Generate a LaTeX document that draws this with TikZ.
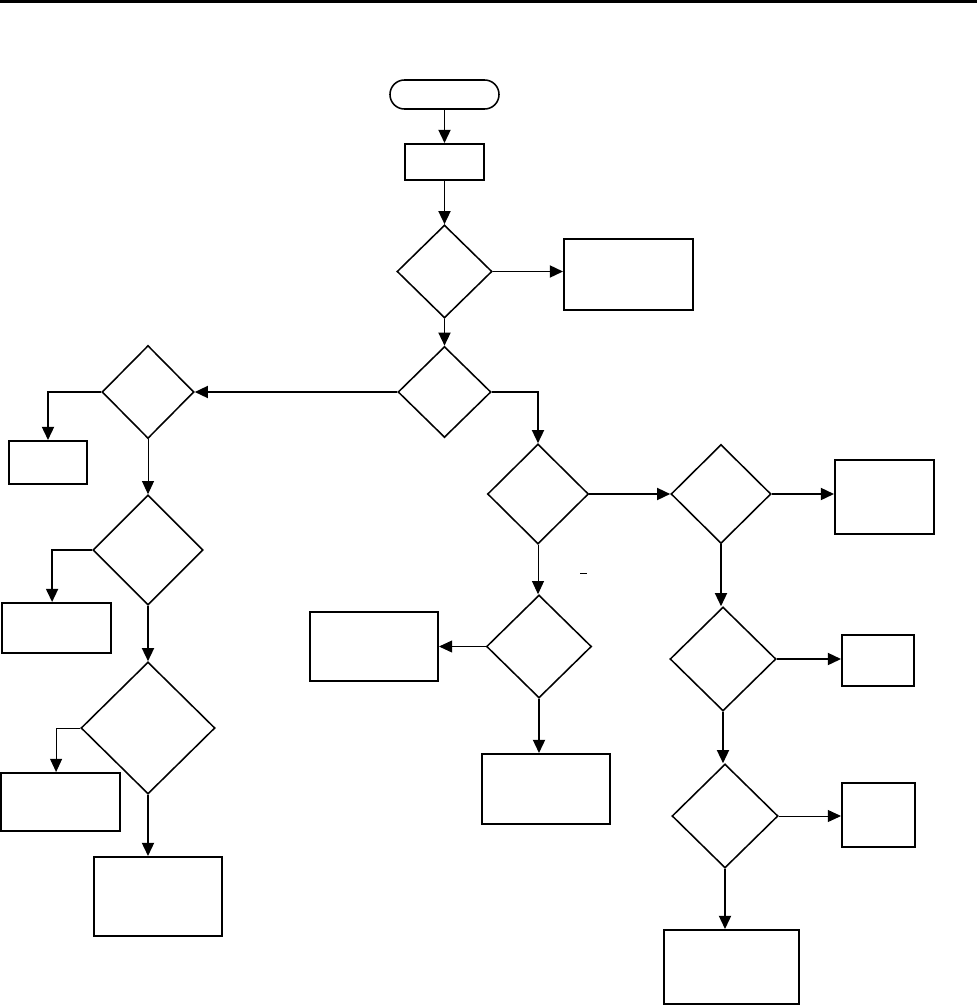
\documentclass[tikz,border=0pt]{standalone}
\usepackage{tikz}
\usetikzlibrary{arrows.meta, positioning, shapes.geometric}

\begin{document}
\begin{tikzpicture}[
  x=0.025cm, y=-0.025cm,
  sz/.style 2 args={minimum width=#1*0.025cm, minimum height=#2*0.025cm},
  proc/.style={draw, rectangle, line width=1.4pt, inner sep=0pt},
  decision/.style={draw, diamond, line width=1.1pt, inner sep=0pt},
  term/.style={draw, rectangle, rounded corners=0.36cm, line width=1.1pt, inner sep=0pt},
  arrow/.style={-{Triangle[length=0.33cm, width=0.3cm]}, line width=1.4pt},
  thinarrow/.style={-{Triangle[length=0.33cm, width=0.3cm]}, line width=0.7pt}
]
\useasboundingbox (0,0) rectangle (977,1005);
\draw[line width=2.1pt] (0,1.5) -- (977,1.5);

% main column
\node[term, sz={109}{29}] (start) at (444.5,94.5) {};
\node[proc, sz={79}{36}] (init) at (444.5,162) {};
\node[decision, sz={95}{93}] (d1) at (444.5,271.5) {};
\node[proc, sz={129}{71}] (out1) at (628.5,274.5) {};
\node[decision, sz={93}{91}] (d2) at (444.5,392) {};

% left branch
\node[decision, sz={92}{93}] (left1) at (148,392) {};
\node[proc, sz={78}{43}] (leftbox1) at (48,462.5) {};
\node[decision, sz={110}{110}] (left2) at (148,550) {};
\node[proc, sz={109}{50}] (leftbox2) at (56.5,628) {};
\node[decision, sz={134}{132}] (left3) at (148,728) {};
\node[proc, sz={119}{58}] (leftbox3) at (60.5,802) {};
\node[proc, sz={128}{79}] (leftbox4) at (158,896.5) {};

% middle branch
\node[decision, sz={101}{100}] (mid1) at (538,494) {};
\node[decision, sz={105}{103}] (mid2) at (539,646.5) {};
\node[proc, sz={128}{69}] (midbox1) at (374,646.5) {};
\node[proc, sz={128}{70}] (midbox2) at (546,789) {};

% right branch
\node[decision, sz={100}{99}] (right1) at (721,494) {};
\node[proc, sz={99}{74}] (rightbox1) at (884.5,497) {};
\node[decision, sz={106}{104}] (right2) at (723,659) {};
\node[proc, sz={72}{51}] (rightbox2) at (878,660.5) {};
\node[decision, sz={106}{104}] (right3) at (725,816) {};
\node[proc, sz={73}{64}] (rightbox3) at (878.5,815) {};
\node[proc, sz={135}{74}] (rightbox4) at (731.5,967) {};

\draw[line width=0.7pt] (580,573) -- (587,573);

\draw[arrow] (start) -- (init); \draw[arrow] (init) -- (d1); \draw[arrow] (d1) -- (d2);
\draw[arrow] (d1.east) -- (d1.east -| out1.west);
\draw[arrow] (d2.west) -- (left1.east);
\draw[arrow] (left1.west) -| (leftbox1.north);
\draw[thinarrow] (left1.south) -- (left2.north);
\draw[arrow] (left2.west) -| ([xshift=-0.11cm]leftbox2.north);
\draw[arrow] (left2.south) -- (left3.north);
\draw[thinarrow] (left3.west) -| ([xshift=-0.11cm]leftbox3.north);
\draw[arrow] (left3.south) -- (left3.south |- leftbox4.north);
\draw[arrow] (d2.east) -| (mid1.north);
\draw[arrow] (mid1.east) -- (right1.west);
\draw[thinarrow] (mid1.south) -- (mid1.south |- mid2.north);
\draw[thinarrow] (mid2.west) -- (mid2.west -| midbox1.east);
\draw[arrow] (mid2.south) -- (mid2.south |- midbox2.north);
\draw[arrow] (right1.east) -- (right1.east -| rightbox1.west);
\draw[arrow] (right1.south) -- (right1.south |- right2.north);
\draw[arrow] (right2.east) -- (right2.east -| rightbox2.west);
\draw[arrow] (right2.south) -- (right2.south |- right3.north);
\draw[thinarrow] (right3.east) -- (right3.east -| rightbox3.west);
\draw[arrow] (right3.south) -- (right3.south |- rightbox4.north);

\end{tikzpicture}
\end{document}
